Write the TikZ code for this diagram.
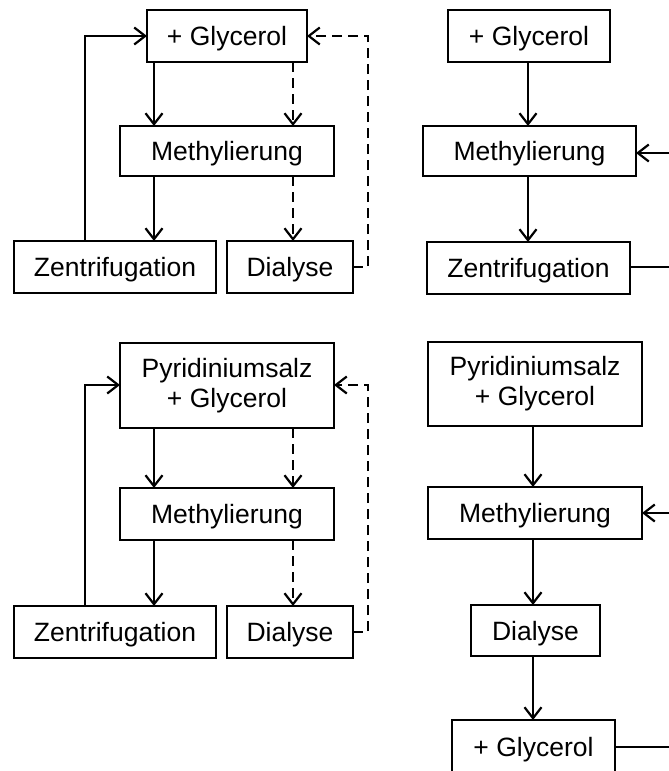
\documentclass[tikz,border=0pt]{standalone}
\usepackage{fontspec}
\setmainfont{Liberation Sans}
\usetikzlibrary{arrows.meta}
\begin{document}
\begin{tikzpicture}[x=1pt,y=-1pt,
  box/.style={draw,line width=2.3pt,inner sep=0pt,outer sep=0pt,align=center,
    font=\fontsize{26.5}{30}\selectfont},
  one/.style={box,text height=19pt,text depth=0pt},
  arr/.style={line width=2.2pt,-{Straight Barb[length=11pt,width=17pt,line width=2.2pt]}},
  darr/.style={arr,dash pattern=on 10pt off 6pt},
  ln/.style={line width=2.2pt},
  dln/.style={ln,dash pattern=on 10pt off 6pt}]
\useasboundingbox (0,0) rectangle (669,771);
\clip (0,0) rectangle (669,771);
\fill[white] (0,0) rectangle (669,771);
% ---- top left
\node[one,minimum width=160pt,minimum height=52pt] (g1) at (227,36) {+ Glycerol};
\node[one,minimum width=214pt,minimum height=50pt] (m1) at (227,151) {Methylierung};
\node[one,minimum width=202pt,minimum height=52pt] (z1) at (115,267) {Zentrifugation};
\node[one,minimum width=126pt,minimum height=52pt] (d1) at (290,267) {Dialyse};
\draw[arr] (g1.south -| 154,0) -- (m1.north -| 154,0);
\draw[arr] (m1.south -| 154,0) -- (z1.north -| 154,0);
\draw[darr] (g1.south -| 293,0) -- (m1.north -| 293,0);
\draw[darr] (m1.south -| 293,0) -- (d1.north -| 293,0);
\coordinate (c1) at (85,36);
\coordinate (e1) at (368,36);
\draw[arr] (z1.north -| c1) -- (c1) -- (g1.west);
\draw[darr] (d1.east) -| (e1) -- (g1.east);
% ---- top right
\node[one,minimum width=162pt,minimum height=52pt] (g2) at (529,36) {+ Glycerol};
\node[one,minimum width=213pt,minimum height=50pt] (m2) at (529.5,151) {Methylierung};
\node[one,minimum width=203pt,minimum height=52pt] (z2) at (528.5,268) {Zentrifugation};
\coordinate (in2) at (672,153);
\coordinate (out2) at (672,267);
\draw[arr] (g2.south -| 528,0) -- (m2.north -| 528,0);
\draw[arr] (m2.south -| 528,0) -- (z2.north -| 528,0);
\draw[arr] (in2) -- (m2.east |- in2);
\draw[ln] (z2.east |- out2) -- (out2);
% ---- bottom left
\node[box,minimum width=214pt,minimum height=85pt] (p3) at (227,385.5) {Pyridiniumsalz\\+ Glycerol};
\node[one,minimum width=214pt,minimum height=52pt] (m3) at (227,514) {Methylierung};
\node[one,minimum width=202pt,minimum height=52pt] (z3) at (115,632) {Zentrifugation};
\node[one,minimum width=126pt,minimum height=52pt] (d3) at (290,632) {Dialyse};
\draw[arr] (p3.south -| 154,0) -- (m3.north -| 154,0);
\draw[arr] (m3.south -| 154,0) -- (z3.north -| 154,0);
\draw[darr] (p3.south -| 293,0) -- (m3.north -| 293,0);
\draw[darr] (m3.south -| 293,0) -- (d3.north -| 293,0);
\coordinate (c3) at (85,385);
\coordinate (e3) at (368,385);
\draw[arr] (z3.north -| c3) -- (c3) -- (p3.west |- c3);
\draw[darr] (d3.east) -| (e3) -- (p3.east |- e3);
% ---- bottom right
\node[box,minimum width=214pt,minimum height=84pt] (p4) at (535,384) {Pyridiniumsalz\\+ Glycerol};
\node[one,minimum width=214pt,minimum height=52pt] (m4) at (535,513) {Methylierung};
\node[one,minimum width=129pt,minimum height=51pt] (d4) at (535.5,630.5) {Dialyse};
\node[one,minimum width=163pt,minimum height=54pt] (g4) at (533.5,747) {+ Glycerol};
\coordinate (in4) at (672,513);
\coordinate (out4) at (672,747);
\draw[arr] (p4.south -| 533,0) -- (m4.north -| 533,0);
\draw[arr] (m4.south -| 533,0) -- (d4.north -| 533,0);
\draw[arr] (d4.south -| 533,0) -- (g4.north -| 533,0);
\draw[arr] (in4) -- (m4.east |- in4);
\draw[ln] (g4.east) -- (out4);
\end{tikzpicture}
\end{document}
